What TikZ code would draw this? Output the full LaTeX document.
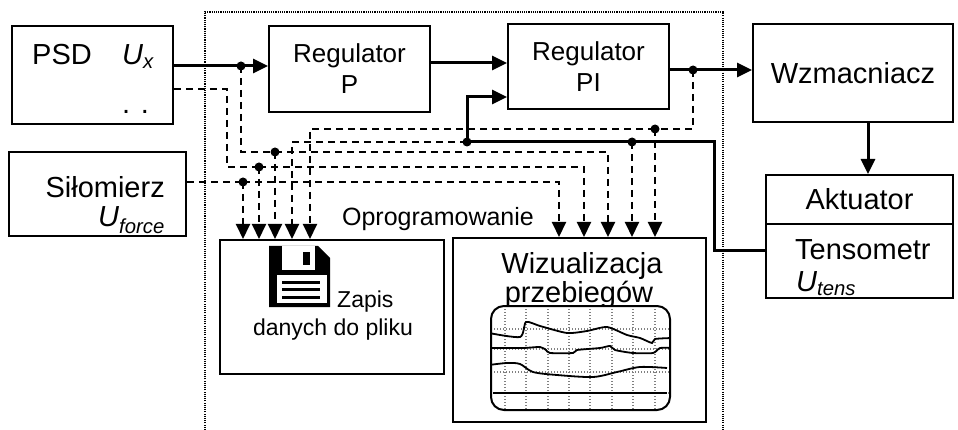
\documentclass[tikz,border=0pt]{standalone}
\usepackage{fontspec}
\setmainfont{Liberation Sans}
\usetikzlibrary{arrows.meta}

\newcommand{\fsduzy}{\fontsize{29}{32}\selectfont}
\newcommand{\fsreg}{\fontsize{26}{31}\selectfont}
\newcommand{\fsmaly}{\fontsize{23}{27}\selectfont}

\begin{document}
\begin{tikzpicture}[x=1pt, y=-1pt,
    blok/.style={draw, line width=2pt, inner sep=0pt},
    tekst/.style={inner sep=0pt, font=\fsduzy},
    sig/.style={line width=3pt},
    dsig/.style={line width=2pt, dash pattern=on 7pt off 5pt},
    grot/.style={-{Triangle[length=15pt,width=14pt]}},
    siatka/.style={gray, line width=1.3pt, dash pattern=on 1.3pt off 1.7pt}]

    \useasboundingbox (0,0) rectangle (958,430);

    % ramka oprogramowania
    \draw[line width=1.1pt, dash pattern=on 1.1pt off 1.1pt] (205,430) |- (723,12) -- (723,430);

    % bloki
    \node[blok, minimum width=161pt, minimum height=98pt] (psd) at (92.5,75) {};
    \node[blok, minimum width=177pt, minimum height=84pt] (silo) at (97.5,194) {};
    \node[blok, minimum width=161pt, minimum height=86pt, align=center, font=\fsreg] (regP) at (349.5,69) {Regulator\\P};
    \node[blok, minimum width=161pt, minimum height=85pt, align=center, font=\fsreg] (regPI) at (588.5,66.5) {Regulator\\PI};
    \node[blok, minimum width=200pt, minimum height=98pt, font=\fsduzy] (wzm) at (853,73) {Wzmacniacz};
    \node[blok, minimum width=187pt, minimum height=49pt, font=\fsduzy] (akt) at (859.5,199.5) {Aktuator};
    \node[blok, minimum width=187pt, minimum height=74pt] (tens) at (859.5,261) {};
    \node[blok, minimum width=224pt, minimum height=134pt] (zapis) at (332,307) {};
    \node[blok, minimum width=253pt, minimum height=184pt] (wiz) at (579.5,330) {};

    % opisy
    \node[tekst, anchor=base] (psdN) at (62,65) {PSD};
    \node[tekst, anchor=base west] (psdU) at (122,65) {\textit{U\textsubscript{x}}};
    \node[tekst, anchor=base west] (psdK) at (122,114) {. .};
    \node[tekst, anchor=base east] (siloN) at (165,198) {Siłomierz};
    \node[tekst, anchor=base east] (siloU) at (165,227) {\textit{U\textsubscript{force}}};
    \node[tekst, anchor=base west] (tensN) at (795,260) {Tensometr};
    \node[tekst, anchor=base west] (tensU) at (796,291) {\textit{U\textsubscript{tens}}};
    \node[tekst, anchor=base, font=\fontsize{25}{30}\selectfont] (progN) at (438,226) {Oprogramowanie};
    \node[tekst, anchor=base west, font=\fsmaly] (zapisN) at (337,308) {Zapis};
    \node[tekst, anchor=base, font=\fsmaly] (zapisD) at (333,335) {danych do pliku};
    \node[tekst, anchor=base] (wizN) at (582,273) {Wizualizacja};
    \node[tekst, anchor=base] (wizP) at (579,302) {przebiegów};

    % dyskietka
    \fill (269,246) -- (318,246) -- (330,258) -- (330,307) -- (269,307) -- cycle;
    \fill[white] (282,246) rectangle (315,270);
    \fill (303,252) rectangle (310,265);
    \fill[white] (277,275) rectangle (327,303);
    \foreach \y in {281,288,296}
        \fill (282,\y) rectangle (320,\y+3);

    % ekran z przebiegami
    \fill[white, rounded corners=13pt] (491,306) rectangle (670,410);
    \begin{scope}
        \clip[rounded corners=13pt] (491,306) rectangle (670,410);
        \foreach \x in {505,526,548,569,590,612,633,655}
            \draw[siatka] (\x,306) -- (\x,410);
        \foreach \y in {329,349,372,393}
            \draw[siatka] (491,\y) -- (670,\y);
        \draw[line width=1.8pt] plot[smooth, tension=0.4] coordinates {(489,333) (520,337) (526,322) (540,326) (567,333) (587,331) (607,327) (627,335) (640,338) (652,343) (655,339) (672,338)};
        \draw[line width=1.8pt] plot[smooth, tension=0.4] coordinates {(489,348) (523,348) (540,347) (546,350) (550,353) (573,353) (577,350) (600,348) (610,346) (615,350) (633,353) (653,353) (660,348) (672,348)};
        \draw[line width=1.8pt] plot[smooth, tension=0.5] coordinates {(489,365) (507,363) (520,364) (533,372) (557,375) (593,377) (617,372) (640,367) (667,368)};
        \draw[line width=1.8pt] (493,393) -- (667,393);
    \end{scope}
    \draw[line width=2pt, rounded corners=13pt] (491,306) rectangle (670,410);

    % punkty rozgalezien
    \coordinate (jUx) at (241,66);
    \coordinate (jUxS) at (275,152);
    \coordinate (jPsdAux) at (200,89);
    \coordinate (jAux0) at (227,167);
    \coordinate (jAux) at (259,167);
    \coordinate (jF) at (243,182);
    \coordinate (jP) at (450,63);
    \coordinate (jPI) at (693,70);
    \coordinate (jPIv) at (655,129);
    \coordinate (jW) at (868,150);
    \coordinate (jTen) at (740,251);
    \coordinate (jT) at (714,142);
    \coordinate (jT1) at (467,142);
    \coordinate (jT2) at (632,142);
    \coordinate (jPIin) at (490,97);
    \coordinate (xT) at (292,142);
    \coordinate (xPI) at (310,129);
    \coordinate (xF) at (559,182);
    \coordinate (xAux) at (584,167);
    \coordinate (xUx) at (608,152);

    % tor glowny
    \draw[sig, grot] (psd.east |- jUx) -- (regP.west |- jUx);
    \draw[sig, grot] (regP.east |- jP) -- (regPI.west |- jP);
    \draw[sig, grot] (regPI.east |- jPI) -- (wzm.west |- jPI);
    \draw[sig, grot] (wzm.south -| jW) -- (akt.north -| jW);
    \draw[sig, grot] (tens.west |- jTen) -| (jT) -- (jT1) |- (regPI.west |- jPIin);

    % sygnaly do zapisu i wizualizacji
    \draw[dsig] (jUx) |- (jUxS);
    \draw[dsig, grot] (jUxS) -- (jUxS |- zapis.north);
    \draw[dsig, grot] (jUxS) -- (xUx) -- (xUx |- wiz.north);

    \draw[dsig] (psd.east |- jPsdAux) -| (jAux0) -- (jAux);
    \draw[dsig, grot] (jAux) -- (jAux |- zapis.north);
    \draw[dsig, grot] (jAux) -- (xAux) -- (xAux |- wiz.north);

    \draw[dsig] (silo.east |- jF) -- (jF);
    \draw[dsig, grot] (jF) -- (jF |- zapis.north);
    \draw[dsig, grot] (jF) -- (xF) -- (xF |- wiz.north);

    \draw[dsig] (jPI) |- (jPIv);
    \draw[dsig, grot] (jPIv) -- (xPI) -- (xPI |- zapis.north);
    \draw[dsig, grot] (jPIv) -- (jPIv |- wiz.north);

    \draw[dsig, grot] (jT1) -- (xT) -- (xT |- zapis.north);
    \draw[dsig, grot] (jT2) -- (jT2 |- wiz.north);

    \foreach \j in {jUx,jUxS,jAux,jF,jPI,jPIv,jT1,jT2}
        \fill (\j) circle (4.5pt);

\end{tikzpicture}
\end{document}
